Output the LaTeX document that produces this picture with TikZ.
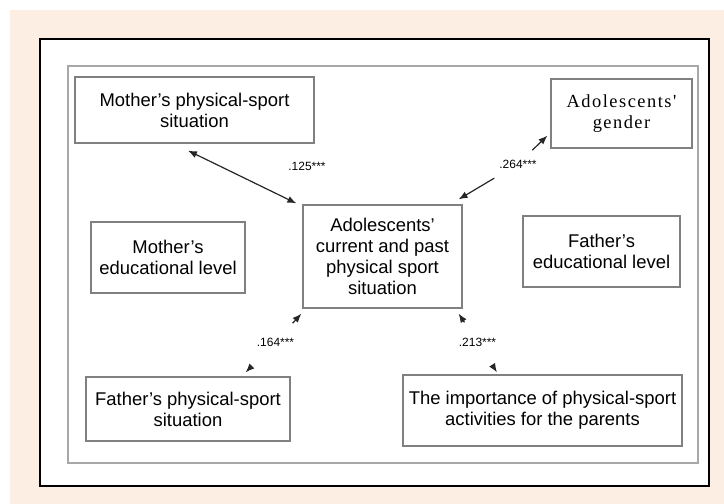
\documentclass[tikz,border=0pt]{standalone}
\usepackage{fontspec}
\setmainfont{Liberation Sans}
\newfontfamily\gendfont[LetterSpace=8]{Liberation Serif}
\usetikzlibrary{arrows.meta}
\definecolor{peach}{RGB}{253,238,228}
\definecolor{boxgray}{RGB}{128,128,128}
\definecolor{framegray}{RGB}{168,168,168}

\begin{document}
\begin{tikzpicture}[
    x=1bp, y=-1bp,
    every node/.style={align=center, font=\fontsize{18.5}{21}\selectfont},
    varbox/.style={draw=boxgray, line width=1.2bp, inner sep=0pt},
    coef/.style={font=\fontsize{12}{14}\selectfont, inner sep=1bp},
    link/.style={line width=1.2bp, draw=black!85},
    >={Latex[length=9bp,width=7bp]}
  ]
    \useasboundingbox (0,0) rectangle (724,504);
    \fill[peach] (10,10) rectangle (724,504);
    \draw[line width=2bp, fill=white] (40,39) rectangle (709,486);
    \draw[framegray, line width=1.5bp] (68,66) rectangle (698,463);

    \node[varbox, minimum width=239bp, minimum height=66bp] (mothersport) at (194.5,110) {Mother's physical-sport\\situation};
    \node[varbox, minimum width=141bp, minimum height=69bp] (gender) at (621.5,113.5) {\gendfont Adolescents'\\\gendfont gender};
    \node[varbox, minimum width=154bp, minimum height=71bp] (motheredu) at (168,257.5) {Mother's\\educational level};
    \node[varbox, minimum width=159bp, minimum height=103bp] (core) at (382.5,256.5) {Adolescents'\\current and past\\physical sport\\situation};
    \node[varbox, minimum width=157bp, minimum height=71bp] (fatheredu) at (601.5,251.5) {Father's\\educational level};
    \node[varbox, minimum width=204bp, minimum height=64bp] (fathersport) at (188,409) {Father's physical-sport\\situation};
    \node[varbox, minimum width=279bp, minimum height=71bp] (importance) at (542.5,410.5) {The importance of physical-sport\\activities for the parents};

    \node[coef] (c125) at (307,166) {.125***};
    \node[coef] (c264) at (518,164) {.264***};
    \node[coef] (c164) at (275.5,342) {.164***};
    \node[coef] (c213) at (477.5,342) {.213***};

    \draw[link,<->] ([xshift=-6.5bp,yshift=-7bp]mothersport.south) -- ([xshift=-6bp,yshift=1bp]core.north west);
    \draw[link,->,shorten <=12bp] (c264) -- ([xshift=-3bp,yshift=13bp]gender.south west);
    \draw[link,->,shorten <=17bp] (c264) -- ([xshift=-4bp,yshift=5bp]core.north east);
    \draw[link,->,shorten <=18bp] (c164) -- ([xshift=-1bp,yshift=-5bp]core.south west);
    \draw[link,->,shorten <=28bp] (c164) -- ([xshift=-45bp,yshift=4bp]fathersport.north east);
    \draw[link,->,shorten <=17bp] (c213) -- ([xshift=-4bp,yshift=-5bp]core.south east);
    \draw[link,->,shorten <=21bp] (c213) -- ([xshift=-45.5bp,yshift=2bp]importance.north);
  \end{tikzpicture}
\end{document}
